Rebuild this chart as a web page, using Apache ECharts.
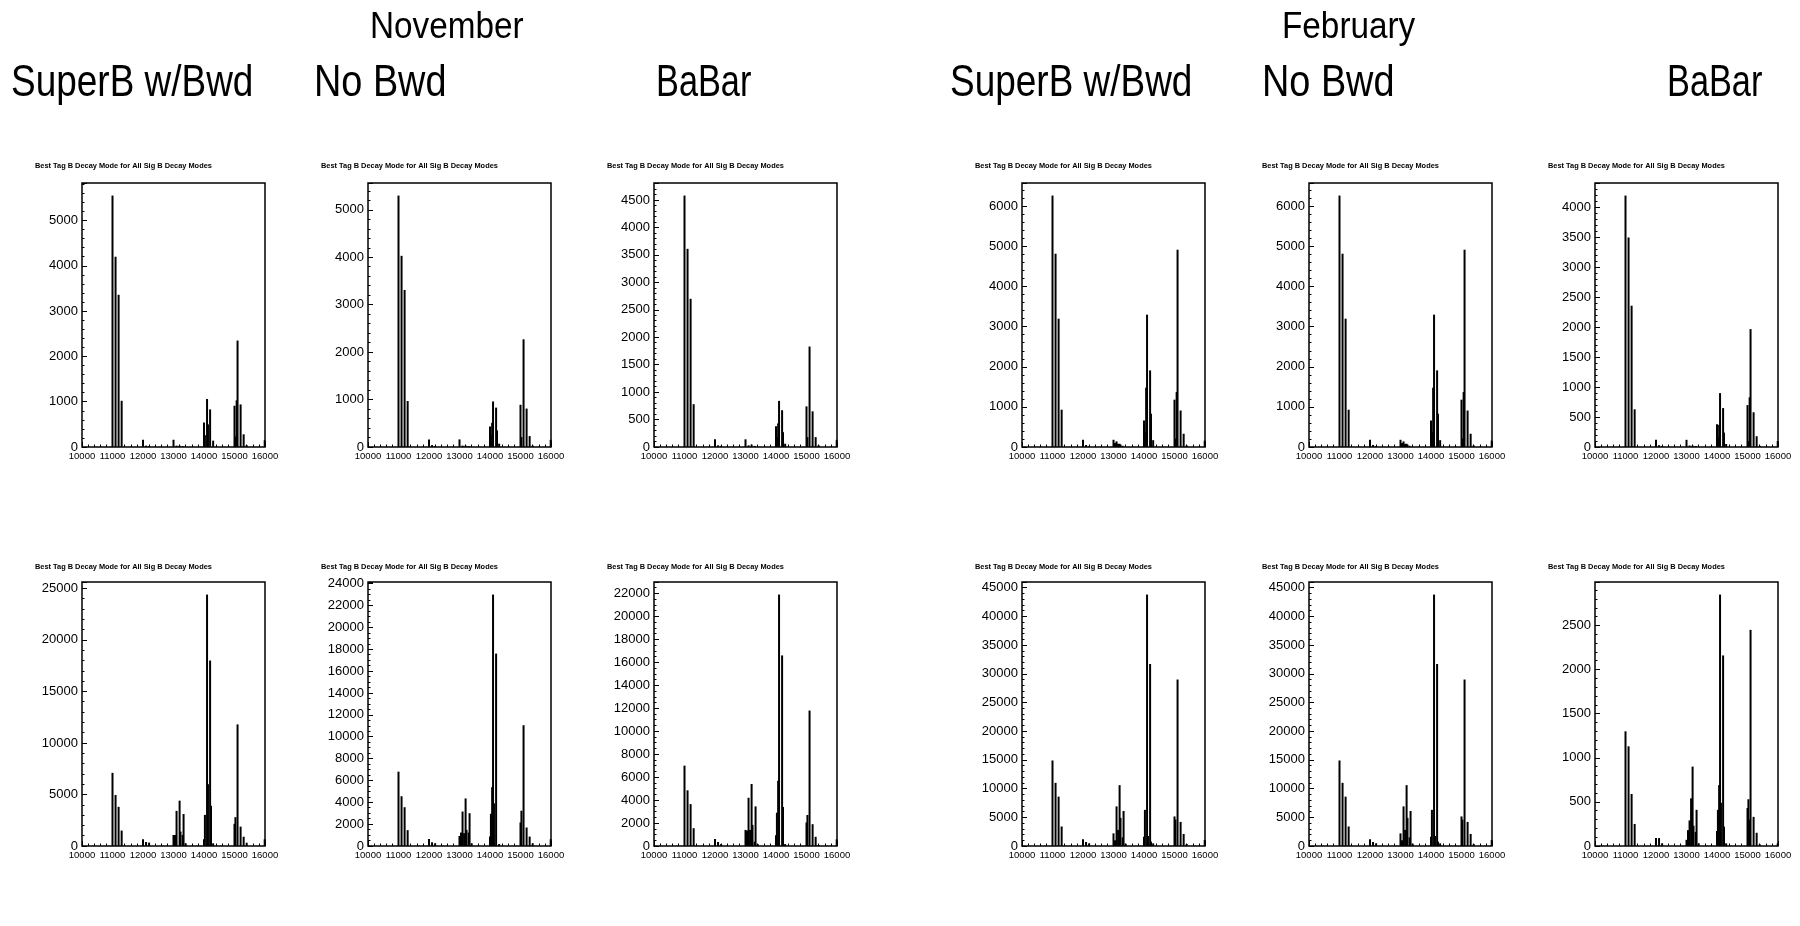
<!DOCTYPE html>
<html lang="en">
<head>
    <meta charset="UTF-8">
    <title>Best Tag B Decay Mode</title>
    <script src="https://cdn.jsdelivr.net/npm/echarts@6.0.0/dist/echarts.min.js"></script>
    <style>
        html, body { margin: 0; padding: 0; background: #fff; }
        #charts { width: 1800px; height: 926px; }
    </style>
</head>
<body>
    <div id="charts"></div>
    <script type="text/javascript">
        // tag B decay mode bins (x position of each spike)
        var modes = [11000, 11100, 11200, 11300, 12000, 12100, 12200,
                     13000, 13050, 13100, 13150, 13200, 13230, 13300, 13330, 13400,
                     14000, 14030, 14070, 14100, 14130, 14200, 14230, 14300,
                     15000, 15030, 15070, 15100, 15200, 15300, 15400, 15990];

        // top row
        var novSuperB1 = [5550, 4200, 3360, 1020, 160, 30, 20, 160, 0, 30, 0, 30, 0, 20, 0, 0,
                          540, 260, 0, 1060, 500, 830, 0, 140, 910, 230, 1030, 2350, 940, 280, 40, 150];
        var novNoBwd1  = [5300, 4030, 3310, 970, 160, 40, 20, 160, 0, 30, 0, 30, 0, 20, 0, 0,
                          430, 260, 510, 960, 0, 830, 350, 70, 890, 210, 0, 2270, 810, 230, 30, 150];
        var novBaBar1  = [4580, 3610, 2700, 780, 140, 30, 20, 140, 0, 30, 0, 45, 0, 20, 0, 0,
                          380, 180, 430, 840, 0, 670, 270, 60, 740, 180, 0, 1830, 650, 180, 30, 130];
        var febSuperB1 = [6270, 4820, 3200, 930, 180, 50, 20, 180, 100, 140, 80, 80, 60, 30, 0, 0,
                          660, 370, 1480, 3300, 0, 1910, 830, 170, 1180, 210, 1370, 4920, 910, 330, 40, 160];
        var febNoBwd1  = [6270, 4820, 3200, 930, 180, 50, 20, 180, 100, 140, 80, 80, 60, 30, 0, 0,
                          660, 370, 1480, 3300, 0, 1910, 830, 170, 1180, 210, 1370, 4920, 910, 330, 40, 160];
        var febBaBar1  = [4200, 3500, 2360, 630, 120, 30, 15, 120, 0, 25, 0, 25, 0, 15, 0, 0,
                          380, 160, 370, 900, 0, 650, 240, 50, 700, 100, 830, 1970, 580, 180, 20, 100];

        // bottom row
        var novSuperB2 = [7100, 4950, 3800, 1500, 650, 390, 330, 1070, 1070, 3410, 0, 4400, 1400, 1070, 3100, 260,
                          650, 3020, 0, 24400, 6000, 18000, 3900, 260, 2150, 2800, 0, 11800, 1880, 900, 320, 650];
        var novNoBwd2  = [6800, 4550, 3550, 1450, 650, 340, 250, 920, 1230, 3150, 1170, 4350, 1480, 1230, 3000, 250,
                          860, 2950, 5380, 23000, 3900, 17600, 0, 185, 2150, 3230, 0, 11050, 1690, 860, 250, 615];
        var novBaBar2  = [7000, 4850, 3650, 1550, 600, 350, 170, 1400, 1350, 4200, 1400, 5400, 1840, 380, 3450, 170,
                          930, 2900, 5680, 21900, 0, 16600, 3400, 170, 2050, 2700, 0, 11800, 1900, 800, 90, 580];
        var febSuperB2 = [14900, 11000, 8600, 3400, 1160, 700, 460, 2200, 1000, 6900, 2800, 10600, 4900, 1500, 6100, 400,
                          1600, 6300, 0, 43800, 1750, 31700, 760, 460, 5150, 4600, 0, 29000, 4200, 2100, 350, 1050];
        var febNoBwd2  = [14900, 11000, 8600, 3400, 1160, 700, 460, 2200, 1000, 6900, 2800, 10600, 4900, 1500, 6100, 400,
                          1600, 6300, 0, 43800, 1750, 31700, 760, 460, 5150, 4600, 0, 29000, 4200, 2100, 350, 1050];
        var febBaBar2  = [1300, 1130, 590, 250, 90, 90, 30, 70, 180, 290, 540, 900, 230, 160, 410, 30,
                          170, 410, 690, 2850, 490, 2160, 220, 30, 430, 530, 300, 2450, 330, 150, 20, 30];

        var panels = [
            [novSuperB1, novNoBwd1, novBaBar1, febSuperB1, febNoBwd1, febBaBar1],
            [novSuperB2, novNoBwd2, novBaBar2, febSuperB2, febNoBwd2, febBaBar2]
        ];
        var yStep = [[1000, 1000, 500, 1000, 1000, 500], [5000, 2000, 2000, 5000, 5000, 500]];

        var colLeft = [82, 368, 654, 1022, 1309, 1595];
        var rowTop = [183, 582];
        var titleY = [166, 567];
        var plotW = 183, plotH = 264;
        var histTitle = 'Best Tag B Decay Mode for All Sig B Decay Modes';
        var font = 'Liberation Sans, Arial, sans-serif';

        var grids = [], xAxes = [], yAxes = [], series = [], texts = [];
        var plain = function (v) { return String(v); };

        for (var r = 0; r < 2; r++) {
            for (var c = 0; c < 6; c++) {
                var idx = grids.length;
                var vals = panels[r][c];
                grids.push({
                    left: colLeft[c], top: rowTop[r], width: plotW, height: plotH,
                    show: true, borderColor: '#000', borderWidth: 1.5, backgroundColor: 'transparent'
                });
                xAxes.push({
                    gridIndex: idx, type: 'value', min: 10000, max: 16000, interval: 1000,
                    axisLine: { show: false },
                    axisTick: { inside: true, length: 5, lineStyle: { color: '#000' } },
                    minorTick: { show: true, splitNumber: 5, length: 2.5, lineStyle: { color: '#000' } },
                    axisLabel: { color: '#000', fontSize: 9.5, margin: 4, fontFamily: font, formatter: plain },
                    splitLine: { show: false }
                });
                yAxes.push({
                    gridIndex: idx, type: 'value', min: 0, interval: yStep[r][c],
                    max: function (v) { return v.max * 1.05; },
                    axisLine: { show: false },
                    axisTick: { inside: true, length: 5, lineStyle: { color: '#000' } },
                    minorTick: { show: true, splitNumber: yStep[r][c] == 2000 ? 4 : 5, length: 2.5, lineStyle: { color: '#000' } },
                    axisLabel: { color: '#000', fontSize: 13, margin: 4, fontFamily: font, showMaxLabel: false, formatter: plain },
                    splitLine: { show: false }
                });
                series.push({
                    type: 'bar', xAxisIndex: idx, yAxisIndex: idx, barWidth: 2, silent: true,
                    itemStyle: { color: '#000' },
                    data: modes.map(function (m, j) { return [m, vals[j]]; })
                });
                texts.push({
                    type: 'text', x: colLeft[c] - 47, y: titleY[r],
                    style: { text: histTitle, fill: '#000', font: 'bold 7.4px ' + font,
                             textAlign: 'left', textVerticalAlign: 'middle', align: 'left', verticalAlign: 'middle' }
                });
            }
        }

        // column headers: text, left x, middle y, font size, horizontal squeeze
        var headers = [
            ['November', 370, 28, 37, 0.9],
            ['February', 1282, 28, 37, 0.9],
            ['SuperB w/Bwd', 11, 84, 44, 0.84],
            ['No Bwd', 314, 84, 44, 0.86],
            ['BaBar', 656, 84, 44, 0.78],
            ['SuperB w/Bwd', 950, 84, 44, 0.84],
            ['No Bwd', 1262, 84, 44, 0.86],
            ['BaBar', 1667, 84, 44, 0.78]
        ];
        headers.forEach(function (h) {
            texts.push({
                type: 'text', x: h[1], y: h[2], scaleX: h[4],
                style: { text: h[0], fill: '#000', font: h[3] + 'px ' + font,
                         textAlign: 'left', textVerticalAlign: 'middle', align: 'left', verticalAlign: 'middle' }
            });
        });

        var myChart = echarts.init(document.getElementById('charts'));
        var option = {
            animation: false,
            backgroundColor: '#fff',
            grid: grids,
            xAxis: xAxes,
            yAxis: yAxes,
            series: series,
            graphic: { elements: texts }
        };
        myChart.setOption(option);
    </script>
</body>
</html>
